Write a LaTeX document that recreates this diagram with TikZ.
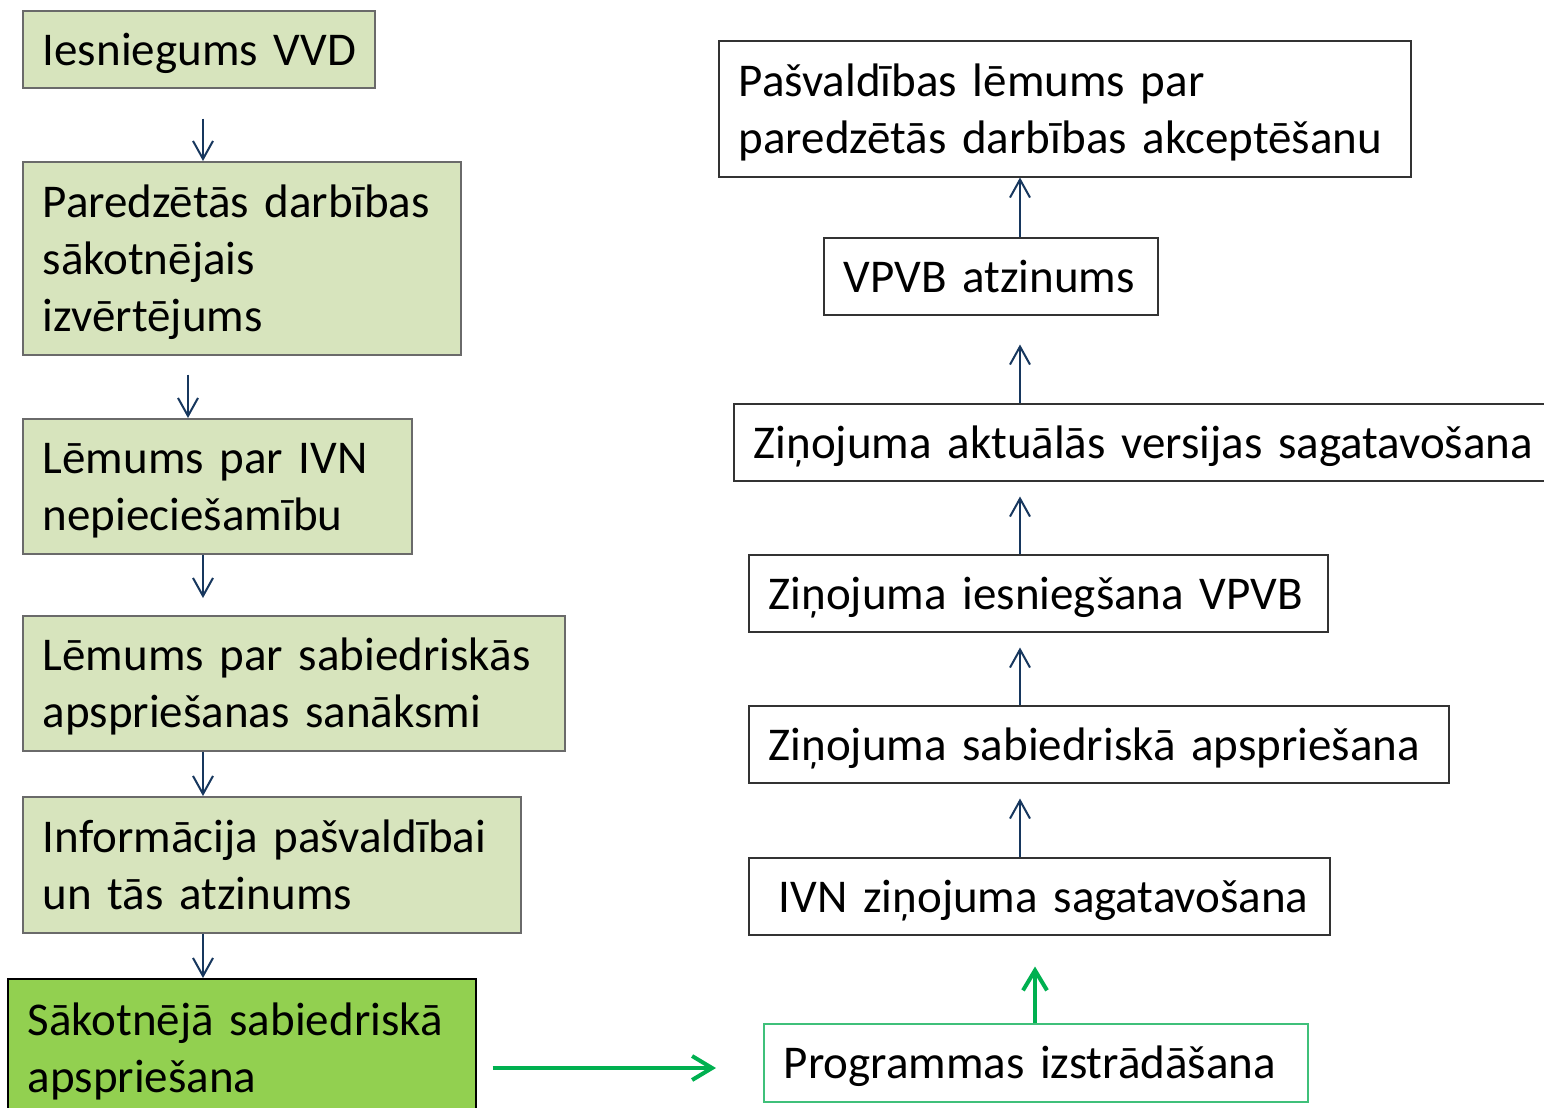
\documentclass[tikz,border=0pt]{standalone}
\usepackage{fontspec}
\setmainfont{Carlito}
\usetikzlibrary{arrows.meta}
\definecolor{lgreen}{HTML}{D7E4BD}
\definecolor{dgreen}{HTML}{92D050}
\definecolor{lborder}{HTML}{6A6A6A}
\definecolor{navy}{HTML}{17375E}
\definecolor{arrgreen}{HTML}{00B050}
\definecolor{pborder}{HTML}{3FC07A}
\newcommand{\boxlines}[1]{\raisebox{-2.25pt}[\height][\depth]{\begin{tabular}{@{}l@{}}#1\end{tabular}}}
\begin{document}
\begin{tikzpicture}[x=0.5pt, y=-0.5pt,
	main/.style = {draw, rectangle, anchor=north west, align=left, inner xsep=10pt, inner ysep=0pt, line width=0.75pt, node font=\fontsize{23.5}{28.5}\selectfont},
	left/.style = {main, draw=lborder, fill=lgreen},
	right/.style = {main, draw=black!80, fill=white, minimum height=38.5pt},
	arr/.style = {navy, line width=1pt, -{Straight Barb[length=9pt, width=10pt]}},
	garr/.style = {arrgreen, line width=2pt, -{Straight Barb[length=10pt, width=12pt]}}]
		\clip (0,0) rectangle (1544,1108);
		\coordinate (a) at (203,0);
		\coordinate (b) at (188,0);
		\coordinate (c) at (1020,0);
		\coordinate (d) at (1035,0);
		\coordinate (e) at (0,1068);
		% left column
		\node[left, text width=156pt, minimum height=38.5pt] (1) at (22,10) {\boxlines{Iesniegums VVD}};
		\node[left, text width=199pt, minimum height=96.5pt] (2) at (22,161) {\boxlines{Paredzētās darbības\\sākotnējais\\izvērtējums}};
		\node[left, text width=174.5pt, minimum height=67.5pt] (3) at (22,418) {\boxlines{Lēmums par IVN\\nepieciešamību}};
		\node[left, text width=251pt, minimum height=67.5pt] (4) at (22,615) {\boxlines{Lēmums par sabiedriskās\\apspriešanas sanāksmi}};
		\node[left, text width=229pt, minimum height=68pt] (5) at (22,796) {\boxlines{Informācija pašvaldībai\\un tās atzinums}};
		\node[left, fill=dgreen, draw=black, text width=214pt, minimum height=69pt] (6) at (7,978) {\boxlines{Sākotnējā sabiedriskā\\apspriešana}};
		% right column
		\node[right, draw=pborder, text width=252pt, minimum height=39pt] (7) at (763,1023) {\boxlines{Programmas izstrādāšana}};
		\node[right, text width=270.5pt] (8) at (748,857) {\boxlines{\hspace{5pt}IVN ziņojuma sagatavošana}};
		\node[right, text width=330pt] (9) at (748,705) {\boxlines{Ziņojuma sabiedriskā apspriešana}};
		\node[right, text width=269.5pt] (10) at (748,554) {\boxlines{Ziņojuma iesniegšana VPVB}};
		\node[right, text width=400pt] (11) at (733,403) {\boxlines{Ziņojuma aktuālās versijas sagatavošana}};
		\node[right, text width=147pt] (12) at (823,237) {\boxlines{VPVB atzinums}};
		\node[right, text width=326pt, minimum height=68pt] (13) at (718,40) {\boxlines{Pašvaldības lēmums par\\paredzētās darbības akceptēšanu}};
		\draw[arr, shorten <=15pt] (1.south -| a) -- (2.north -| a);
		\draw[arr, shorten <=9.5pt] (2.south -| b) -- (3.north -| b);
		\draw[arr, shorten >=8.5pt] (3.south -| a) -- (4.north -| a);
		\draw[arr] (4.south -| a) -- (5.north -| a);
		\draw[arr] (5.south -| a) -- (6.north -| a);
		\draw[garr, shorten <=8pt, shorten >=23.5pt] (6.east |- e) -- (7.west |- e);
		\draw[garr, shorten >=15.5pt] (7.north -| d) -- (8.south -| d);
		\draw[arr, shorten >=7.5pt] (8.north -| c) -- (9.south -| c);
		\draw[arr, shorten >=7.5pt] (9.north -| c) -- (10.south -| c);
		\draw[arr, shorten >=7.5pt] (10.north -| c) -- (11.south -| c);
		\draw[arr, shorten >=14.5pt] (11.north -| c) -- (12.south -| c);
		\draw[arr] (12.north -| c) -- (13.south -| c);
	\end{tikzpicture}
\end{document}
